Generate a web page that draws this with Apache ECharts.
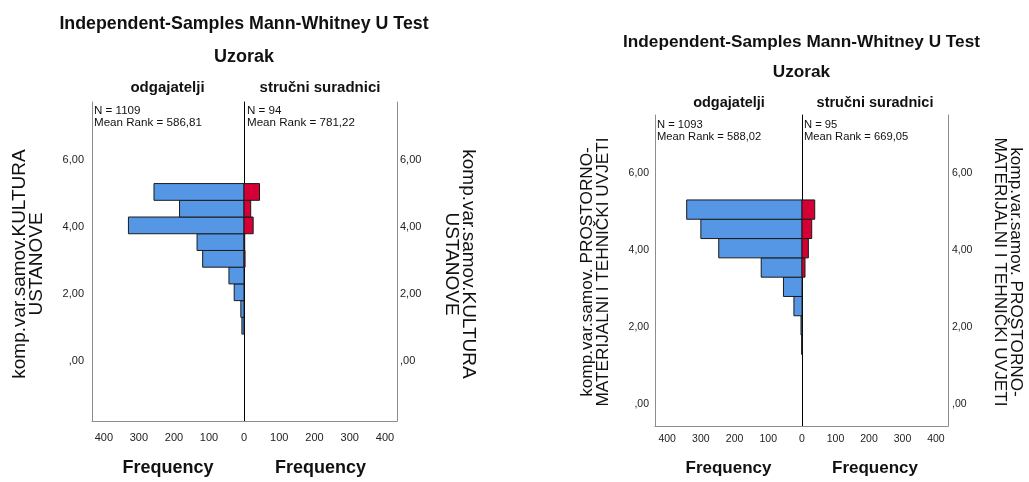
<!DOCTYPE html>
<html>
<head>
<meta charset="utf-8">
<script src="https://cdn.jsdelivr.net/npm/echarts@6/dist/echarts.min.js"></script>
<style>
html,body{margin:0;padding:0;background:#fff;}
#main{width:1029px;height:482px;}
</style>
</head>
<body>
<div id="main"></div>
<script>
// ---- data ----
const binWidth = 0.5;
// chart A: KULTURA USTANOVE (bin lower edges, ascending)
const binStartsA = [0.8, 1.3, 1.8, 2.3, 2.8, 3.3, 3.8, 4.3, 4.8];
const odgajateljiA = [6, 9, 28, 43, 118, 134, 330, 184, 257];
const suradniciA   = [0, 0, 0, 0, 3, 2, 26, 19, 44];
// chart B: PROSTORNO-MATERIJALNI I TEHNIČKI UVJETI
const binStartsB = [1.3, 1.8, 2.3, 2.8, 3.3, 3.8, 4.3, 4.8];
const odgajateljiB = [1, 3, 24, 55, 121, 247, 300, 342];
const suradniciB   = [0, 0, 0, 0, 9, 19, 29, 38];
const freqTicks = [0, 100, 200, 300, 400];
const groupNames = ['odgajatelji', 'stručni suradnici'];
const statsA = ['N = 1109\nMean Rank = 586,81', 'N = 94\nMean Rank = 781,22'];
const statsB = ['N = 1093\nMean Rank = 588,02', 'N = 95\nMean Rank = 669,05'];
const varNameA = 'komp.var.samov.KULTURA\nUSTANOVE';
const varNameB = 'komp.var.samov. PROSTORNO-\nMATERIJALNI I TEHNIČKI UVJETI';
const titleText = 'Independent-Samples Mann-Whitney U Test';
const subtitleText = 'Uzorak';

const BLUE = '#5597E5', RED = '#D40036', FRAME = '#8c8c8c';
const FONT = 'Liberation Sans, Arial, sans-serif';

function toData(starts, counts){
  return starts.map((s,i)=>[counts[i], s, s+binWidth]);
}
function renderBar(params, api){
  const c = api.value(0), lo = api.value(1), hi = api.value(2);
  if (!c) return;
  const p0 = api.coord([0, lo]);
  const p1 = api.coord([c, hi]);
  return {
    type:'rect',
    shape:{x:Math.min(p0[0],p1[0]), y:Math.min(p0[1],p1[1]), width:Math.abs(p1[0]-p0[0]), height:Math.abs(p1[1]-p0[1])},
    style:{fill:api.visual('color'), stroke:'#1a1a1a', lineWidth:1}
  };
}
function yFmt(v){
  if (Math.abs(v % 2) > 1e-9) return '';
  if (v === 0) return ',00';
  return v.toFixed(2).replace('.', ',');
}
function xFmt(v){ return freqTicks.indexOf(v) >= 0 ? String(v) : ''; }

// grids: [left, width, top, height]
const G = [
  [92, 152, 102, 323],
  [244, 153, 102, 323],
  [655, 147, 115, 313],
  [802, 146, 115, 313]
];
const yRanges = [[-1.8, 7.74], [-1.8, 7.74], [-0.555, 7.5], [-0.555, 7.5]];

const grids = G.map(g=>({left:g[0], width:g[1], top:g[2], height:g[3]}));
const xAxes = G.map((g,i)=>({
  gridIndex:i, type:'value', position:'bottom', min:0, max:(i<2?434:436), interval:100,
  inverse: i%2===0,
  axisLine:{show:true, onZero:false, lineStyle:{color:FRAME, width:1}},
  axisTick:{show:false}, splitLine:{show:false},
  axisLabel:{formatter:xFmt, color:'#222', fontSize:i<2?11:10.5, fontFamily:FONT, margin:i<2?11:8, showMinLabel: i%2===0},
  name:'Frequency', nameLocation:'middle', nameGap:i<2?38:34,
  nameTextStyle:{fontSize:i<2?18:17, fontWeight:'bold', color:'#111', fontFamily:FONT}
}));
const yAxes = [];
G.forEach((g,i)=>{
  const side = i%2===0 ? 'left' : 'right';
  yAxes.push({
    gridIndex:i, type:'value', position:side, min:yRanges[i][0], max:yRanges[i][1],
    minInterval:2, maxInterval:2,
    axisLine:{show:true, onZero:false, lineStyle:{color:FRAME, width:1}},
    axisTick:{show:false}, splitLine:{show:false},
    axisLabel:{formatter:yFmt, color:'#222', fontSize:i<2?11:10.5, fontFamily:FONT, margin:side==='left'?(i<2?8:6):(i<2?3:4)}
  });
});
// centre zero lines
[0,2].forEach(i=>{
  yAxes.push({
    gridIndex:i, type:'value', position:'right', min:yRanges[i][0], max:yRanges[i][1],
    axisLine:{show:true, onZero:false, lineStyle:{color:'#000', width:1}},
    axisTick:{show:false}, splitLine:{show:false}, axisLabel:{show:false}
  });
});

const series = [
  {data:toData(binStartsA, odgajateljiA), color:BLUE, g:0},
  {data:toData(binStartsA, suradniciA), color:RED, g:1},
  {data:toData(binStartsB, odgajateljiB), color:BLUE, g:2},
  {data:toData(binStartsB, suradniciB), color:RED, g:3}
].map(s=>({
  type:'custom', xAxisIndex:s.g, yAxisIndex:s.g, renderItem:renderBar,
  itemStyle:{color:s.color}, encode:{x:0, y:[1,2]}, data:s.data, z:3
}));

function txt(x, y, text, opt){
  return Object.assign({
    type:'text', x:x, y:y, z:10,
    style:Object.assign({text:text, fill:'#111', font:'13px '+FONT, textAlign:'center', textVerticalAlign:'middle'}, opt&&opt.style||{})
  }, opt&&opt.el||{});
}
const graphics = [
  // chart A
  txt(244, 24, titleText, {style:{font:'bold 17.8px '+FONT}}),
  txt(244, 57, subtitleText, {style:{font:'bold 18px '+FONT}}),
  txt(167.5, 88, groupNames[0], {style:{font:'bold 15px '+FONT}}),
  txt(320, 88, groupNames[1], {style:{font:'bold 15px '+FONT}}),
  txt(94, 117, statsA[0], {style:{font:'11.6px '+FONT, textAlign:'left', lineHeight:12.5}}),
  txt(247, 117, statsA[1], {style:{font:'11.6px '+FONT, textAlign:'left', lineHeight:12.5}}),
  txt(28, 264, varNameA, {style:{font:'19px '+FONT, lineHeight:17}, el:{rotation:Math.PI/2}}),
  txt(460, 264, varNameA, {style:{font:'19px '+FONT, lineHeight:17}, el:{rotation:-Math.PI/2}}),
  // chart B
  txt(801.5, 42, titleText, {style:{font:'bold 17.2px '+FONT}}),
  txt(801.5, 72, subtitleText, {style:{font:'bold 17.2px '+FONT}}),
  txt(729, 103, groupNames[0], {style:{font:'bold 14.5px '+FONT}}),
  txt(875, 103, groupNames[1], {style:{font:'bold 14.5px '+FONT}}),
  txt(657, 131, statsB[0], {style:{font:'11.2px '+FONT, textAlign:'left', lineHeight:12}}),
  txt(804, 131, statsB[1], {style:{font:'11.2px '+FONT, textAlign:'left', lineHeight:12}}),
  txt(595, 272, varNameB, {style:{font:'17.2px '+FONT, lineHeight:16}, el:{rotation:Math.PI/2}}),
  txt(1008, 272, varNameB, {style:{font:'17.2px '+FONT, lineHeight:16}, el:{rotation:-Math.PI/2}})
];

const chart = echarts.init(document.getElementById('main'), null, {renderer:'canvas'});
chart.setOption({
  backgroundColor:'#fff',
  animation:false,
  grid:grids, xAxis:xAxes, yAxis:yAxes, series:series, graphic:graphics
});
</script>
</body>
</html>
